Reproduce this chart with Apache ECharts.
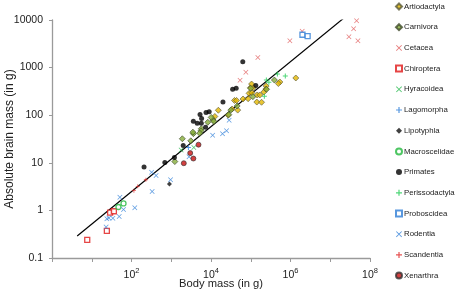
<!DOCTYPE html>
<html>
<head>
<meta charset="utf-8">
<script src="https://cdn.jsdelivr.net/npm/echarts@6/dist/echarts.min.js"></script>
<style>
html,body{margin:0;padding:0;background:#fff;}
#chart{width:459px;height:294px;}
</style>
</head>
<body>
<div id="chart"></div>
<script>
// ---- data: [body mass (g), brain mass (g)] ----
const artiodactyla = [[12500,94],[15300,127],[27000,100],[47000,128],[39000,204],[44000,204],[64000,219],[86000,222],[142000,189],[187000,187],[91000,288],[107000,297],[98000,378],[115000,378],[105000,452],[145000,266],[169000,266],[214000,307],[244000,410],[240000,355],[540000,498],[495000,463],[1360000,605],[34000,135]];
const carnivora = [[1230,10.6],[1900,32],[3100,29],[3600,41],[3500,44],[5700,52],[5600,47],[5200,42],[8300,71],[11300,79],[11800,74],[10100,90],[31500,128],[28000,103],[45500,156],[100000,367],[113000,245],[250000,350],[393000,548]];
const cetacea = [[46000000,9660],[38700000,6560],[29500000,4460],[49700000,3670],[1970000,5800],[964000,3670],[151000,1630],[75300,796],[53800,543]];
const chiroptera = [[7.7,0.24],[24,0.37],[29,0.9],[36,0.96]];
const hyracoidea = [[1770,18.6],[3700,21]];
const lagomorpha = [[2700,21]];
const lipotyphla = [[900,3.6]];
const macroscelidae = [[47,1.18],[63,1.4]];
const primates = [[207,8.2],[690,10.1],[1200,13],[2000,23],[3600,75],[4500,68],[5700,68],[5800,85],[7300,56],[5300,104],[7500,114],[9000,118],[20000,190],[35000,350],[43000,370],[63000,1330],[134000,420]];
const perissodactyla = [[468000,734],[740000,666],[247000,548],[286000,491],[220000,251]];
const proboscidea = [[2000000,4900],[2700000,4600]];
const rodentia = [[23,0.45],[24,0.67],[27,0.69],[34,0.68],[49,0.74],[63,1.05],[51,1.9],[121,1.14],[320,6.3],[415,5.4],[330,2.5],[960,4.4],[2800,13.4],[11000,38],[19500,41],[24600,47],[28600,78]];
const scandentia = [[115,2.6],[144,3.2],[230,4.4]];
const xenarthra = [[2070,9.8],[3000,16],[3600,12.3],[4850,24]];
const regressionLine = [[4.3,0.29],[33000000,14500]];

const yTickLabels = ['0.1','1','10','100','1000','10000'];
const xLabelExponents = [2,4,6,8];

const crossPath = 'path://M1,0 L5,4 L9,0 L10,1 L6,5 L10,9 L9,10 L5,6 L1,10 L0,9 L4,5 L0,1 Z';
const plusPath = 'path://M4,0 L6,0 L6,4 L10,4 L10,6 L6,6 L6,10 L4,10 L4,6 L0,6 L0,4 L4,4 Z';

function sc(name, data, symbol, size, style){
  return {name:name, type:'scatter', data:data, symbol:symbol, symbolSize:size, itemStyle:style, z:3};
}
const series = [
  sc('Artiodactyla', artiodactyla, 'diamond', 6, {color:'#e3b600', borderColor:'#5a5a3a', borderWidth:0.8}),
  sc('Carnivora', carnivora, 'diamond', 6, {color:'#86ad3a', borderColor:'#3e4a2a', borderWidth:0.8}),
  sc('Cetacea', cetacea, crossPath, 5, {color:'#e05a5a'}),
  sc('Chiroptera', chiroptera, 'rect', 5, {color:'#fff', borderColor:'#e01818', borderWidth:1.3}),
  sc('Hyracoidea', hyracoidea, crossPath, 5, {color:'#22b84a'}),
  sc('Lagomorpha', lagomorpha, plusPath, 5, {color:'#2f7fd8'}),
  sc('Lipotyphla', lipotyphla, 'diamond', 5, {color:'#111'}),
  sc('Macroscelidae', macroscelidae, 'circle', 5, {color:'#fff', borderColor:'#22b83c', borderWidth:1.3}),
  sc('Primates', primates, 'circle', 5, {color:'#000'}),
  sc('Perissodactyla', perissodactyla, plusPath, 5, {color:'#22cc55'}),
  sc('Proboscidea', proboscidea, 'rect', 5, {color:'#fff', borderColor:'#2e7dd6', borderWidth:1.3}),
  sc('Rodentia', rodentia, crossPath, 5, {color:'#2f7fd8'}),
  sc('Scandentia', scandentia, plusPath, 4, {color:'#e02828'}),
  sc('Xenarthra', xenarthra, 'circle', 5, {color:'#c81010', borderColor:'#333', borderWidth:0.8}),
  {type:'line', data:regressionLine, symbol:'none', lineStyle:{color:'#000', width:1.2}, z:2, silent:true}
];

const chart = echarts.init(document.getElementById('chart'), null, {renderer:'canvas'});
chart.setOption({
  animation:false,
  backgroundColor:'#fff',
  textStyle:{fontFamily:'Liberation Sans, Arial, sans-serif'},
  grid:{left:52, top:20, width:318, height:238, containLabel:false, outerBoundsMode:'none'},
  legend:{
    orient:'vertical', left:395, top:1.5, padding:0, itemWidth:6, itemHeight:6, itemGap:10.7,
    data:['Artiodactyla','Carnivora','Cetacea','Chiroptera','Hyracoidea','Lagomorpha','Lipotyphla','Macroscelidae','Primates','Perissodactyla','Proboscidea','Rodentia','Scandentia','Xenarthra'],
    textStyle:{fontSize:7.8, color:'#222', lineHeight:10, padding:[0,0,0,-3], fontFamily:'Liberation Sans, Arial, sans-serif'},
    selectedMode:false
  },
  xAxis:{
    type:'log', logBase:10, min:1, max:100000000,
    name:'Body mass (in g)', nameLocation:'middle', nameGap:20, nameMoveOverlap:false,
    nameTextStyle:{fontSize:11.2, color:'#222', padding:[0,0,0,20]},
    axisLine:{lineStyle:{color:'#9a9a9a', width:1.3}},
    axisTick:{show:true, inside:false, length:4, lineStyle:{color:'#9a9a9a'}},
    splitLine:{show:false},
    axisLabel:{
      margin:7, color:'#222',
      formatter:function(v){
        const e = Math.round(Math.log10(v));
        return xLabelExponents.indexOf(e) >= 0 ? '{b|10}{s|' + e + '}' : '';
      },
      rich:{
        b:{fontSize:10.5, color:'#222', fontFamily:'Liberation Sans, Arial, sans-serif', padding:[5,0,0,0]},
        s:{fontSize:7.5, color:'#222', fontFamily:'Liberation Sans, Arial, sans-serif', padding:[0,0,4,0]}
      }
    }
  },
  yAxis:{
    type:'log', logBase:10, min:0.1, max:10000,
    name:'Absolute brain mass (in g)', nameLocation:'middle', nameGap:36, nameRotate:90, nameMoveOverlap:false,
    nameTextStyle:{fontSize:12, color:'#222'},
    axisLine:{show:true, lineStyle:{color:'#9a9a9a', width:1.3}},
    axisTick:{show:true, inside:false, length:3, lineStyle:{color:'#9a9a9a'}},
    splitLine:{show:false},
    axisLabel:{
      margin:9, color:'#222', fontSize:10.5,
      formatter:function(v){
        const e = Math.round(Math.log10(v));
        return yTickLabels[e + 1] || '';
      }
    }
  },
  series:series
});
</script>
</body>
</html>
